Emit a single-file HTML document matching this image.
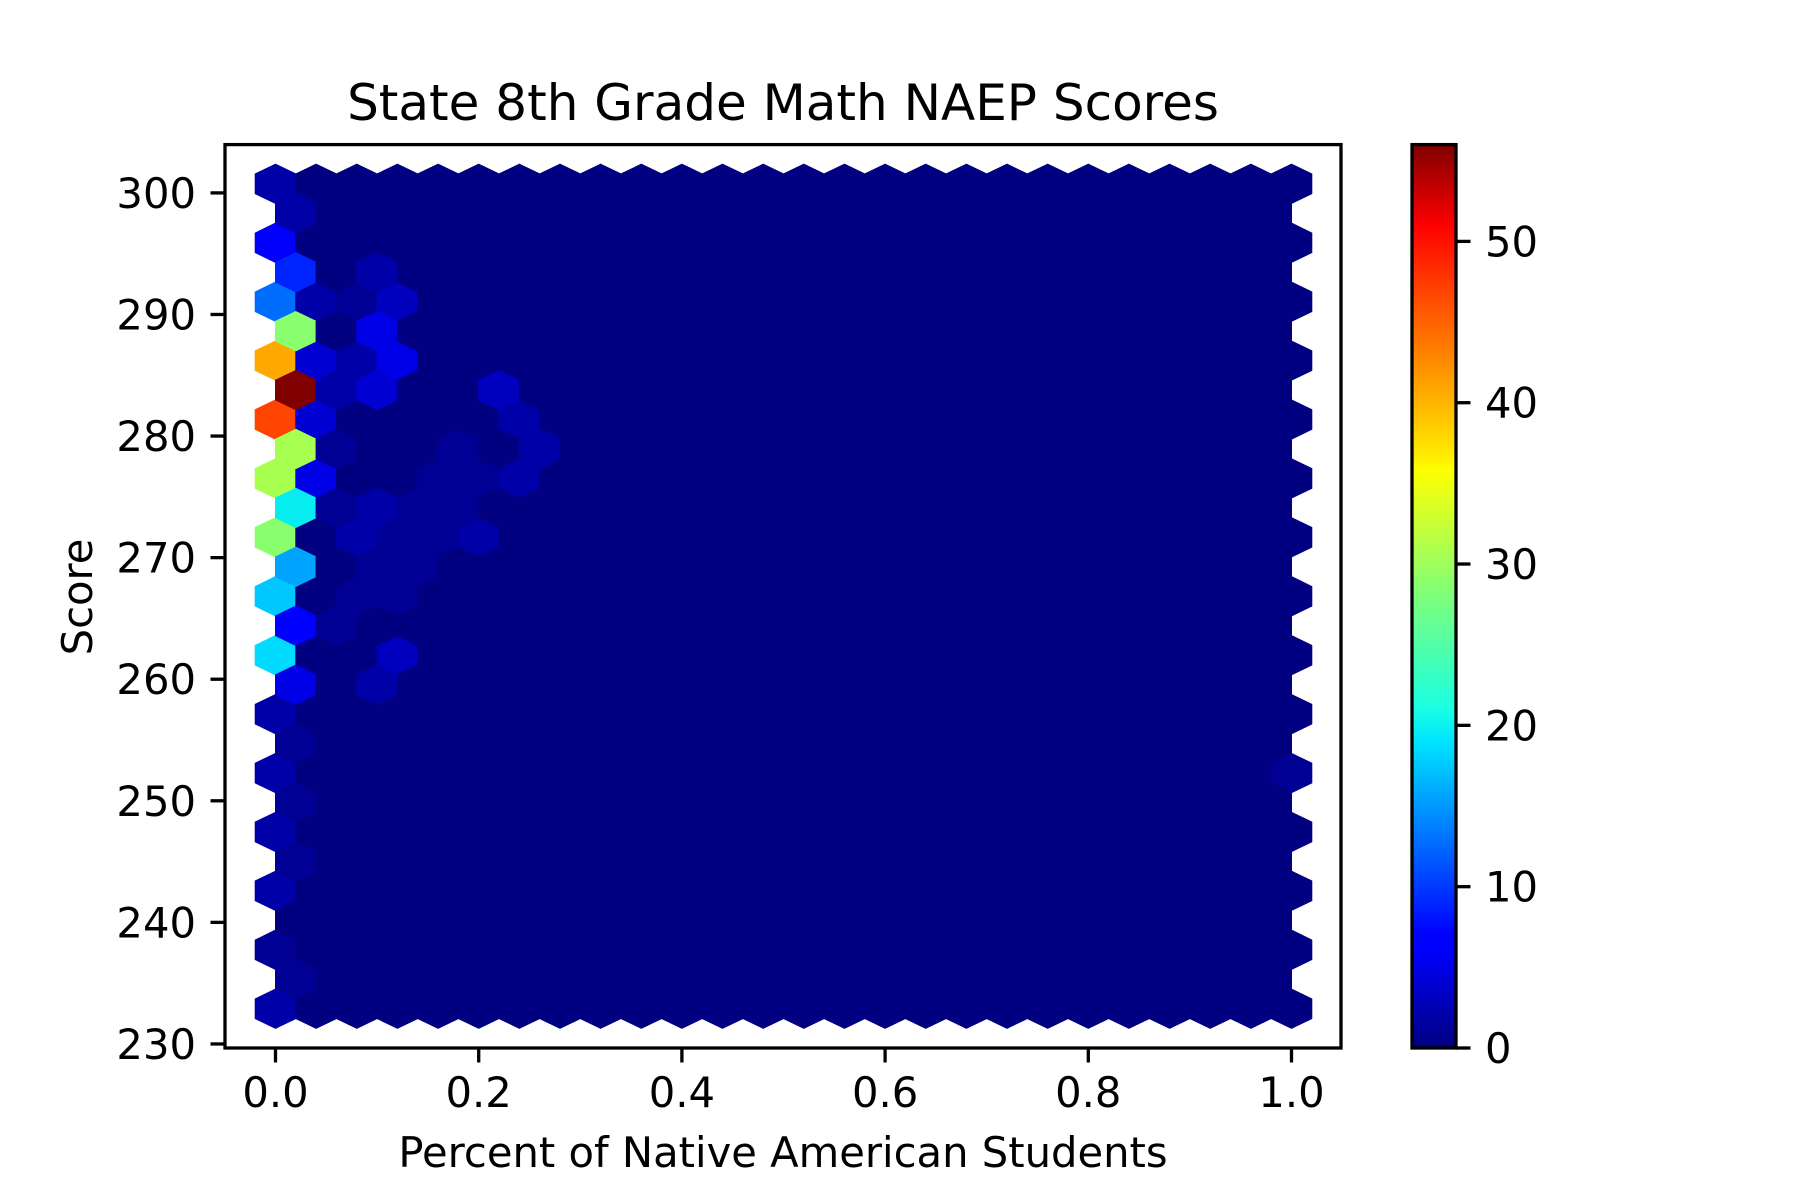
<!DOCTYPE html>
<html><head><meta charset="utf-8"><style>
html,body{margin:0;padding:0;background:#fff;}
svg{display:block;font-family:"DejaVu Sans","Liberation Sans",sans-serif;}
</style></head><body>
<svg id="chart" width="1800" height="1200" viewBox="0 0 1800 1200">
<defs>
<linearGradient id="jet" x1="0" y1="1" x2="0" y2="0">
<stop offset="0" stop-color="#000080"/><stop offset="0.11" stop-color="#0000ff"/>
<stop offset="0.125" stop-color="#0000ff"/><stop offset="0.34" stop-color="#00e5ff"/>
<stop offset="0.375" stop-color="#19ffe3"/><stop offset="0.5" stop-color="#7dff7a"/>
<stop offset="0.64" stop-color="#ffff00"/><stop offset="0.66" stop-color="#ffe600"/>
<stop offset="0.89" stop-color="#ff1300"/><stop offset="0.91" stop-color="#fe0000"/>
<stop offset="1" stop-color="#800000"/>
</linearGradient>
<clipPath id="axclip"><rect x="225" y="144.6" width="1116" height="903.4"/></clipPath>
</defs>
<rect width="1800" height="1200" fill="#fff"/>
<text x="783" y="120" font-size="50" text-anchor="middle">State 8th Grade Math NAEP Scores</text>
<g id="hexes" clip-path="url(#axclip)"></g>
<rect x="225" y="144.6" width="1116" height="903.4" fill="none" stroke="#000" stroke-width="3.3"/>
<g id="xticks"></g>
<g id="yticks"></g>
<text x="783" y="1167" font-size="41.7" text-anchor="middle">Percent of Native American Students</text>
<text x="0" y="0" font-size="41.7" text-anchor="middle" transform="translate(92,597) rotate(-90)">Score</text>
<rect x="1412" y="144.6" width="44" height="903.4" fill="url(#jet)"/>
<rect x="1412" y="144.6" width="44" height="903.4" fill="none" stroke="#000" stroke-width="3.3"/>
<g id="cticks"></g>
</svg>
<script>
// data (sparse non-zero hexbin cells; all other cells are 0)
const hexX = [0,0,0,0,0,0,0,0,0,0,0,0,0,0,0,0,
  0.02,0.02,0.02,0.02,0.02,0.02,0.02,0.02,0.02,0.02,0.02,0.02,0.02,
  0.10,0.04,0.08,0.12,0.10,0.04,0.08,0.12,0.06,0.10,0.22,0.04,0.24,0.06,0.18,0.26,
  0.04,0.16,0.20,0.24,0.10,0.06,0.14,0.18,0.08,0.12,0.16,0.20,0.10,0.14,0.08,0.12,0.06,0.12,0.10,1.0];
const hexY = [300.75,295.9,291.1,286.2,281.4,276.5,271.7,266.8,262.0,257.1,252.3,247.4,242.6,237.7,232.9,300.75,
  298.3,293.5,288.6,283.8,278.9,274.1,269.2,264.4,259.5,254.7,249.8,245.0,235.3,
  293.5,291.1,291.1,291.1,288.6,286.2,286.2,286.2,283.8,283.8,283.8,281.4,281.4,278.9,278.9,278.9,
  276.5,276.5,276.5,276.5,274.1,274.1,274.1,274.1,271.7,271.7,271.7,271.7,269.2,269.2,266.8,266.8,264.4,262.0,259.5,252.3];
const hexCount = [2,6,13,41,47,31,29,18,19,2,2,2,2,1,2,0,
  2,9,29,56,31,20,16,7,5,1,1,1,1,
  2,2,1,3,5,4,2,5,2,4,3,4,2,1,1,2,
  5,1,1,2,2,1,1,1,2,1,1,2,1,1,1,1,1,3,2,1];
const xTickVals = [0,0.2,0.4,0.6,0.8,1.0];
const xTickLabels = ["0.0","0.2","0.4","0.6","0.8","1.0"];
const yTickVals = [230,240,250,260,270,280,290,300];
const cTickVals = [0,10,20,30,40,50];
const vmax = 56;

const NS = "http://www.w3.org/2000/svg";
const xs = v => 275.5 + v * 1016;
const ys = v => 192.9 + (300 - v) * 12.158;
const cs = v => 1048 - v / vmax * 903.4;
const ymin = 232.9, sy = 4.846, sx = 0.04, nx = 25, ny = 14;

function interp(pts, t){
  for (let i = 1; i < pts.length; i++) {
    if (t <= pts[i][0]) { const a = pts[i-1], b = pts[i]; return a[1] + (b[1]-a[1]) * (t-a[0])/(b[0]-a[0]); }
  }
  return pts[pts.length-1][1];
}
function jet(t){
  t = Math.max(0, Math.min(1, t));
  const r = interp([[0,0],[0.35,0],[0.66,1],[0.89,1],[1,0.5]], t);
  const g = interp([[0,0],[0.125,0],[0.375,1],[0.64,1],[0.91,0],[1,0]], t);
  const b = interp([[0,0.5],[0.11,1],[0.34,1],[0.65,0],[1,0]], t);
  return `rgb(${Math.round(r*255)},${Math.round(g*255)},${Math.round(b*255)})`;
}
function countAt(x, y){
  for (let i = 0; i < hexX.length; i++) {
    if (Math.abs(hexX[i]-x) < 0.005 && Math.abs(hexY[i]-y) < 0.5) return hexCount[i];
  }
  return 0;
}
const hexG = document.getElementById("hexes");
function drawHex(cx, cy){
  const c = countAt(cx, cy);
  const pts = [[0.5,-0.5],[0.5,0.5],[0,1],[-0.5,0.5],[-0.5,-0.5],[0,-1]]
    .map(p => xs(cx + p[0]*sx).toFixed(1) + "," + ys(cy + p[1]*sy/3).toFixed(1)).join(" ");
  const poly = document.createElementNS(NS, "polygon");
  poly.setAttribute("points", pts);
  poly.setAttribute("fill", jet(c / vmax));
  poly.setAttribute("stroke", jet(c / vmax));
  poly.setAttribute("stroke-width", "1");
  
  
  hexG.appendChild(poly);
}
for (let j = 0; j <= ny; j++) for (let i = 0; i <= nx; i++) drawHex(i*sx, ymin + j*sy);
for (let j = 0; j < ny; j++) for (let i = 0; i < nx; i++) drawHex((i+0.5)*sx, ymin + (j+0.5)*sy);

function line(g, x1, y1, x2, y2, name){
  const l = document.createElementNS(NS, "line");
  l.setAttribute("x1", x1); l.setAttribute("y1", y1); l.setAttribute("x2", x2); l.setAttribute("y2", y2);
  l.setAttribute("stroke", "#000"); l.setAttribute("stroke-width", "3.3");
  
  
  g.appendChild(l);
}
function text(g, x, y, s, anchor, name){
  const t = document.createElementNS(NS, "text");
  t.setAttribute("x", x); t.setAttribute("y", y); t.setAttribute("font-size", "41.7");
  t.setAttribute("text-anchor", anchor); t.textContent = s;
  
  
  g.appendChild(t);
}
const xg = document.getElementById("xticks");
xTickVals.forEach((v, i) => { line(xg, xs(v), 1048, xs(v), 1062.5, "x-tick"); text(xg, xs(v), 1107, xTickLabels[i], "middle", "x-tick-label"); });
const yg = document.getElementById("yticks");
yTickVals.forEach(v => { line(yg, 225, ys(v), 210.5, ys(v), "y-tick"); text(yg, 196, ys(v) + 15, String(v), "end", "y-tick-label"); });
const cg = document.getElementById("cticks");
cTickVals.forEach(v => { line(cg, 1456, cs(v), 1470.5, cs(v), "colorbar-tick"); text(cg, 1485, cs(v) + 15, String(v), "start", "colorbar-tick-label"); });
</script>
</body></html>
